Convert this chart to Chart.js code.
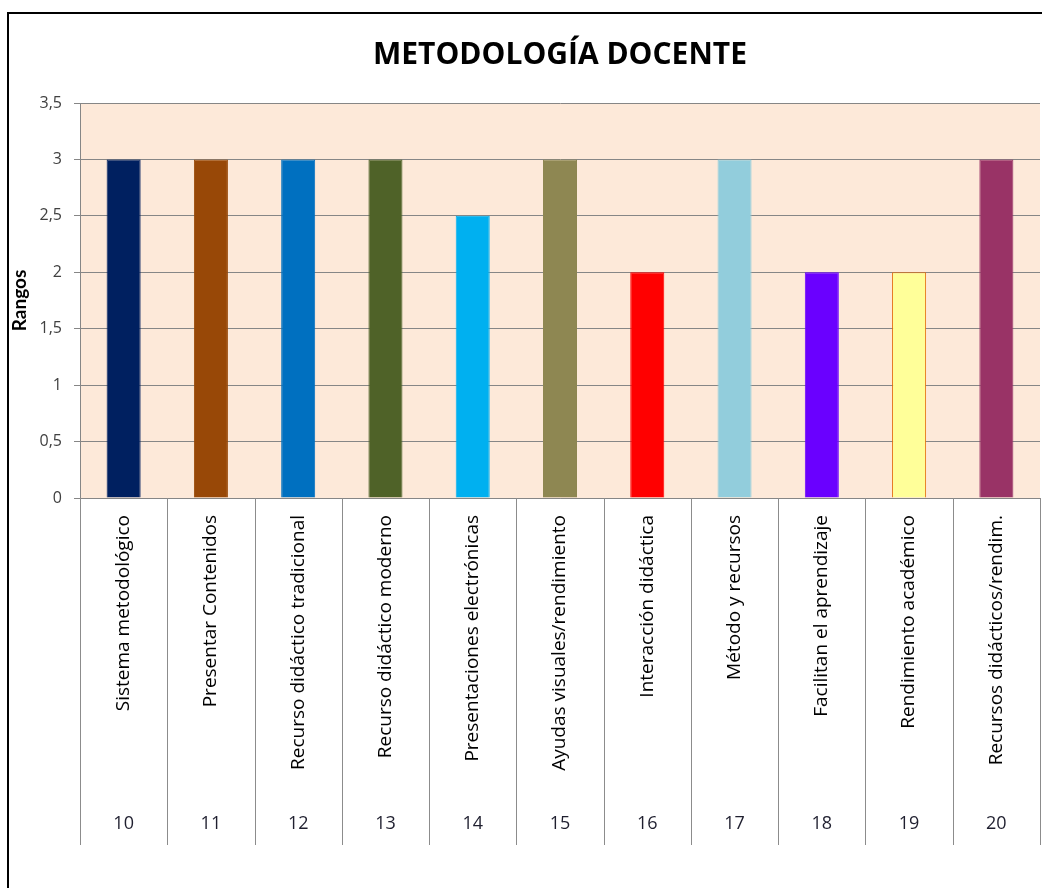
<!DOCTYPE html>
<html>
<head>
<meta charset="utf-8">
<script src="https://cdn.jsdelivr.net/npm/chart.js@4"></script>
<style>
  html, body { margin: 0; padding: 0; background: #fff; overflow: hidden; }
  #frame { position: absolute; left: 7px; top: 12px; width: 1100px; height: 950px; border: 2px solid #000; }
  #wrap { position: absolute; left: 0; top: 0; width: 1042px; height: 888px; }
</style>
</head>
<body>
<div id="frame"></div>
<div id="wrap"><canvas id="chart" width="1042" height="888"></canvas></div>
<script>
// categories and values
const categories = [
  'Sistema metodológico',
  'Presentar Contenidos',
  'Recurso didáctico tradicional',
  'Recurso didáctico moderno',
  'Presentaciones electrónicas',
  'Ayudas visuales/rendimiento',
  'Interacción didáctica',
  'Método y recursos',
  'Facilitan el aprendizaje',
  'Rendimiento académico',
  'Recursos didácticos/rendim.'
];
const codes = ['10', '11', '12', '13', '14', '15', '16', '17', '18', '19', '20'];
const rangos = [3, 3, 3, 3, 2.5, 3, 2, 3, 2, 2, 3];

const barColors = ['#002060', '#984807', '#0070C0', '#4F6228', '#00B0F0', '#8E8752',
  '#FF0000', '#92CDDC', '#6A00FF', '#FFFF99', '#993366'];
const barBorders = ['#002060', '#984807', '#0070C0', '#4F6228', '#00B0F0', '#8E8752',
  '#FF0000', '#92CDDC', '#6A00FF', '#E46C0A', '#993366'];

const FONT = '"Open Sans", Lato, sans-serif';

// peach plot background + category separators below the axis
const plotDecor = {
  id: 'plotDecor',
  beforeDraw(chart) {
    const { ctx, chartArea: a } = chart;
    ctx.save();
    ctx.fillStyle = '#FDE9D9';
    ctx.fillRect(a.left, a.top, a.right - a.left, a.bottom - a.top);
    ctx.restore();
  },
  afterDraw(chart) {
    const ctx = chart.ctx;
    const x = chart.scales.x;
    const x2 = chart.scales.x2;
    const step = (x.right - x.left) / categories.length;
    ctx.save();
    ctx.strokeStyle = '#8C8C8C';
    ctx.lineWidth = 1;
    ctx.beginPath();
    for (let i = 0; i <= categories.length; i++) {
      const px = Math.round(x.left + i * step) + 0.5;
      ctx.moveTo(px, x.top);
      ctx.lineTo(px, x2.bottom - 3);
    }
    ctx.stroke();
    ctx.restore();
  }
};

new Chart(document.getElementById('chart'), {
  type: 'bar',
  data: {
    labels: categories,
    datasets: [{
      data: rangos,
      backgroundColor: barColors,
      borderColor: barBorders,
      borderWidth: 1,
      barPercentage: 0.39,
      categoryPercentage: 1
    }]
  },
  options: {
    responsive: false,
    animation: false,
    layout: { padding: { left: 8, right: 2, top: 0, bottom: 40 } },
    plugins: {
      legend: { display: false },
      tooltip: { enabled: false },
      title: {
        display: true,
        fullSize: false,
        text: 'METODOLOGÍA DOCENTE',
        color: '#000',
        font: { family: FONT, size: 30, weight: 'bold' },
        padding: { top: 37, bottom: 30 }
      }
    },
    scales: {
      x: {
        offset: true,
        grid: { display: false },
        border: { display: true, color: '#868686' },
        ticks: {
          autoSkip: false, minRotation: 90, maxRotation: 90, padding: 9,
          color: '#000', font: { family: FONT, size: 19 }
        },
        afterFit(s) { s.height = 300; }
      },
      x2: {
        type: 'category',
        labels: codes,
        position: 'bottom',
        offset: true,
        weight: 1,
        grid: { display: false },
        border: { display: false },
        ticks: { padding: 7, color: '#1F1F2F', font: { family: FONT, size: 18 } },
        afterFit(s) { s.height = 50; }
      },
      y: {
        min: 0,
        max: 3.5,
        ticks: {
          stepSize: 0.5, padding: 12, color: '#404040',
          font: { family: FONT, size: 16 },
          callback: v => String(v).replace('.', ',')
        },
        grid: { color: '#868686', tickLength: 6 },
        border: { color: '#868686' },
        title: {
          display: true, text: 'Rangos', color: '#000',
          font: { family: 'Lato, sans-serif', size: 19, weight: 'bold' },
          padding: { top: 0, bottom: 4 }
        },
        afterFit(s) { s.width = 72; }
      }
    }
  },
  plugins: [plotDecor]
});
</script>
</body>
</html>
